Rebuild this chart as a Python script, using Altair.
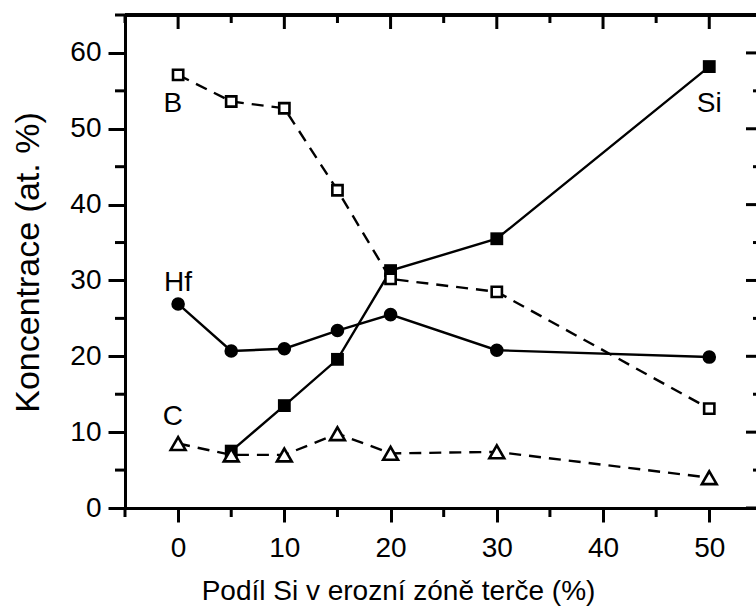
import altair as alt
import pandas as pd

# ---- data ----
x_all = [0, 5, 10, 15, 20, 30, 50]
x_si = [5, 10, 15, 20, 30, 50]
si_vals = [7.5, 13.5, 19.6, 31.3, 35.5, 58.2]
b_vals = [57.1, 53.6, 52.7, 41.9, 30.2, 28.5, 13.1]
hf_vals = [26.9, 20.7, 21.0, 23.4, 25.5, 20.8, 19.9]
c_vals = [8.5, 7.0, 7.0, 9.8, 7.2, 7.4, 4.0]

label_text = ["B", "Hf", "C", "Si"]
label_x = [-0.5, 0.0, -0.5, 50.0]
label_y = [53.3, 29.7, 12.0, 53.3]

x_major = [0, 10, 20, 30, 40, 50]
x_minor = [-5, 5, 15, 25, 35, 45]
y_major = [0, 10, 20, 30, 40, 50, 60]
y_minor = [5, 15, 25, 35, 45, 55, 65]

x_title = "Podíl Si v erozní zóně terče (%)"
y_title = "Koncentrace (at. %)"

# ---- layout ----
W, H = 631, 493
FONT = "Liberation Sans"
FS = 28

xs = alt.Scale(domain=[-5, 54.4], nice=False, zero=False)
ys = alt.Scale(domain=[0, 65], nice=False, zero=False)

xaxis = alt.Axis(values=x_major, tickSize=14, tickWidth=3, tickColor="black",
                 domainWidth=3, domainColor="black", domainCap="square",
                 labelFontSize=FS, labelFont=FONT, labelColor="black", labelPadding=12,
                 labelFlush=False, labelOverlap=False, grid=False,
                 title=x_title, titleFontSize=28, titleFont=FONT, titleFontWeight="normal",
                 titleColor="black", titleX=273, titleY=91, titleAlign="center",
                 titleBaseline="alphabetic", titleAnchor="start")
yaxis = alt.Axis(values=y_major, tickSize=17, tickWidth=3, tickColor="black",
                 domainWidth=3, domainColor="black", domainCap="square",
                 labelFontSize=FS, labelFont=FONT, labelColor="black", labelPadding=7,
                 labelFlush=False, labelOverlap=False, grid=False,
                 title=y_title, titleFontSize=34, titleFont=FONT, titleFontWeight="normal",
                 titleColor="black", titleX=-87, titleY=247, titleAlign="center",
                 titleAngle=270, titleBaseline="alphabetic", titleAnchor="start")

X = alt.X("x:Q", scale=xs, axis=xaxis)
Y = alt.Y("y:Q", scale=ys, axis=yaxis)


def df(xv, yv):
    return pd.DataFrame({"x": xv, "y": yv})


def series(xv, yv, dashed, shape, filled, size):
    d = df(xv, yv)
    lk = dict(color="black", strokeWidth=2.4)
    if dashed:
        lk["strokeDash"] = [12, 8]
    line = alt.Chart(d).mark_line(**lk).encode(x=X, y=Y)
    pt = alt.Chart(d).mark_point(shape=shape, filled=True, size=size,
                                 fill="black" if filled else "white",
                                 stroke="black", strokeWidth=2.6 if not filled else 0,
                                 opacity=1).encode(x=X, y=Y)
    return [line, pt]


layers = []
layers += series(x_si, si_vals, False, "square", True, 165)
layers += series(x_all, hf_vals, False, "circle", True, 185)
layers += series(x_all, b_vals, True, "square", False, 105)
layers += series(x_all, c_vals, True, "triangle-up", False, 220)

lab = pd.DataFrame({"x": label_x, "y": label_y, "t": label_text})
layers.append(alt.Chart(lab).mark_text(font=FONT, fontSize=FS, color="black",
                                        align="center", baseline="middle")
              .encode(x=X, y=Y, text="t:N"))

# minor ticks (left, bottom), inward ticks (top, right)
tx_maj = pd.DataFrame({"x": x_major})
tx_min = pd.DataFrame({"x": x_minor})
ty_maj = pd.DataFrame({"y": y_major})
ty_min = pd.DataFrame({"y": y_minor})
rk = dict(color="black", strokeWidth=3)
layers.append(alt.Chart(ty_min).mark_rule(**rk).encode(y=Y, x=alt.value(-10), x2=alt.value(0)))
layers.append(alt.Chart(tx_min).mark_rule(**rk).encode(x=X, y=alt.value(H), y2=alt.value(H + 9)))
layers.append(alt.Chart(tx_maj).mark_rule(**rk).encode(x=X, y=alt.value(0), y2=alt.value(14)))
layers.append(alt.Chart(tx_min).mark_rule(**rk).encode(x=X, y=alt.value(0), y2=alt.value(8)))
layers.append(alt.Chart(ty_maj).mark_rule(**rk).encode(y=Y, x=alt.value(W - 10), x2=alt.value(W + 4)))
layers.append(alt.Chart(ty_min).mark_rule(**rk).encode(y=Y, x=alt.value(W - 3), x2=alt.value(W + 4)))
# top frame line
layers.append(alt.Chart(tx_maj).mark_rule(**rk).encode(x=alt.value(0), x2=alt.value(W + 4), y=alt.value(0)))

chart = alt.layer(*layers).properties(
    width=W, height=H,
    autosize=alt.AutoSizeParams(type="none"),
    padding={"left": 125, "top": 15, "right": 0, "bottom": 611 - 15 - H},
    background="white",
).configure_view(stroke=None)

chart.save("out.html", embed_options={"renderer": "svg", "actions": False})
